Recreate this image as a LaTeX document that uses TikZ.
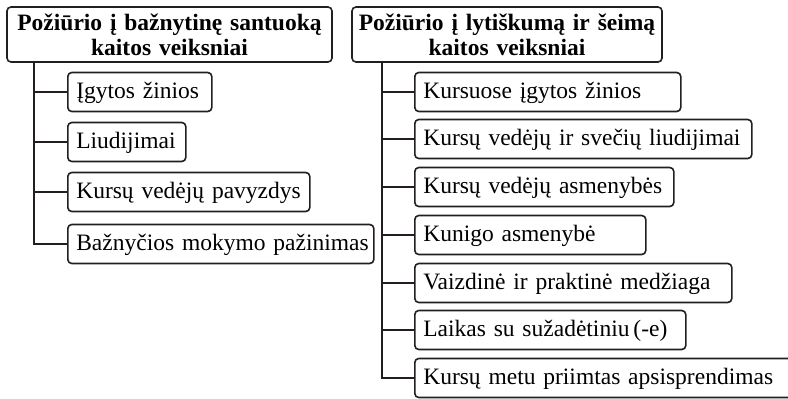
\documentclass[tikz,border=0pt]{standalone}
\usepackage{fontspec}
\setmainfont{Liberation Serif}
\definecolor{lineC}{RGB}{35,31,32}
\begin{document}
\begin{tikzpicture}[x=1pt,y=-1pt,
  box/.style={draw=lineC, line width=1.6pt, rounded corners=4pt, fill=white},
  head/.style={box, font=\fontsize{23.5}{25}\selectfont\bfseries, align=center,
    inner xsep=0pt, inner ysep=2pt, text width=#1, minimum height=55pt},
  leaf/.style={box, anchor=west, font=\fontsize{23.5}{26}\selectfont, align=left,
    inner xsep=8.5pt, inner ysep=0pt, text height=17pt, text depth=4.5pt,
    minimum height=39pt, text width=#1},
  conn/.style={draw=lineC, line width=2pt}]
\clip (0,0) rectangle (788,399);
% headers
\node[head=325pt] (lh) at (169.5,34.5) {Požiūrio į bažnytinę santuoką\\kaitos veiksniai};
\node[head=310pt] (rh) at (507,34.5) {Požiūrio į lytiškumą ir šeimą\\kaitos veiksniai};
% left leaves
\node[leaf=127pt] (l1) at (67,92)  {\mbox{Įgytos žinios}};
\node[leaf=101pt] (l2) at (67,142) {\mbox{Liudijimai}};
\node[leaf=225pt] (l3) at (67,192) {\mbox{Kursų vedėjų pavyzdys}};
\node[leaf=289pt] (l4) at (67,244) {\mbox{Bažnyčios mokymo pažinimas}};
% right leaves
\node[leaf=249pt] (r1) at (414,92)  {\mbox{Kursuose įgytos žinios}};
\node[leaf=320pt] (r2) at (414,139) {\mbox{Kursų vedėjų ir svečių liudijimai}};
\node[leaf=242pt] (r3) at (414,187) {\mbox{Kursų vedėjų asmenybės}};
\node[leaf=214pt] (r4) at (414,235) {\mbox{Kunigo asmenybė}};
\node[leaf=300pt] (r5) at (414,283) {\mbox{Vaizdinė ir praktinė medžiaga}};
\node[leaf=254pt] (r6) at (414,330) {\mbox{Laikas su sužadėtiniu\,(-e)}};
\node[leaf=373pt] (r7) at (414,378) {\mbox{Kursų metu priimtas apsisprendimas}};
% trunks
\coordinate (lt) at ([xshift=28pt]lh.south west);
\coordinate (rt) at ([xshift=31pt]rh.south west);
\draw[conn] (lt) |- (l4.west);
\foreach \n in {l1,l2,l3} \draw[conn] (lt |- \n.west) -- (\n.west);
\draw[conn] (rt) |- (r7.west);
\foreach \n in {r1,r2,r3,r4,r5,r6} \draw[conn] (rt |- \n.west) -- (\n.west);
\end{tikzpicture}
\end{document}
